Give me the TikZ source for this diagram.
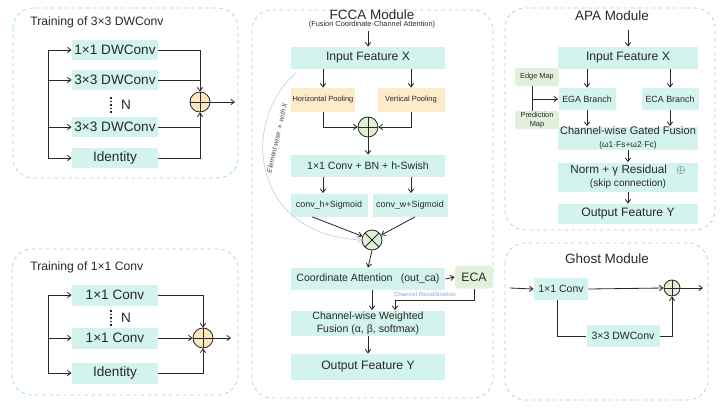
\documentclass[tikz,border=0pt]{standalone}
\usepackage{fontspec}
\setmainfont{Liberation Sans}
\usepackage{xcolor}
\usepackage{tikz}
\usetikzlibrary{arrows.meta, positioning}
\usetikzlibrary{calc}

\definecolor{boxc}{RGB}{211,243,239}
\definecolor{yelc}{RGB}{253,236,201}
\definecolor{grnc}{RGB}{226,239,218}
\definecolor{plusy}{RGB}{252,232,188}
\definecolor{plusg}{RGB}{224,240,214}
\definecolor{panelc}{RGB}{140,222,210}
\definecolor{curvec}{RGB}{200,206,236}
\definecolor{recc}{RGB}{170,185,240}
\definecolor{linec}{RGB}{40,40,40}

\tikzset{
  panel/.style={draw=panelc, dashed, rounded corners=0.6cm, line width=0.6pt},
  blk/.style={fill=boxc, inner sep=0pt, align=center},
  sz/.style 2 args={minimum width=#1*0.03cm, minimum height=#2*0.03cm},
  arr/.style={-{Straight Barb[length=3pt,width=4.5pt]}},
  oplus/.style={circle, draw, inner sep=0pt, minimum size=#1*0.03cm,
    path picture={\draw (path picture bounding box.north) -- (path picture bounding box.south)
      (path picture bounding box.west) -- (path picture bounding box.east);}},
  otimes/.style={circle, draw, inner sep=0pt, minimum size=#1*0.03cm,
    path picture={\draw (path picture bounding box.north west) -- (path picture bounding box.south east)
      (path picture bounding box.south west) -- (path picture bounding box.north east);}},
  ttl/.style={font=\fontsize{10.4}{12}\selectfont},
  head/.style={font=\fontsize{11.5}{13}\selectfont},
  fbig/.style={font=\fontsize{11.6}{13}\selectfont},
  fmid/.style={font=\fontsize{10.4}{12}\selectfont},
  fnine/.style={font=\fontsize{9}{10.8}\selectfont},
  fsml/.style={font=\fontsize{7.6}{9}\selectfont},
  ftiny/.style={font=\fontsize{6.3}{7.4}\selectfont},
}

\begin{document}
\begin{tikzpicture}[x=0.03cm, y=-0.03cm, line width=0.7pt, color=linec]
\useasboundingbox (0,0) rectangle (722,408);

% panels
\draw[panel] (13,8) rectangle (238,178);
\draw[panel] (12,249) rectangle (238,395);
\draw[panel] (252,10) rectangle (493,398);
\draw[panel] (505,8) rectangle (715,230);
\draw[panel] (505,243) rectangle (708,400);

% training of 3x3 DWConv
\node[ttl, anchor=west](t1) at (26,22) {Training of 3×3 DWConv};
\node[blk, sz={86}{20}, fbig](a1) at (115,50) {1×1 DWConv};
\node[blk, sz={86}{20}, fbig](a2) at (115,80) {3×3 DWConv};
\node[blk, sz={86}{20}, fbig](a3) at (115,127) {3×3 DWConv};
\node[blk, sz={86}{20}, fbig](a4) at (115,158) {Identity};
\draw[dash pattern=on 1.3pt off 1.7pt, line width=1pt] (111,97) -- (111,113);
\node[fbig](n1) at (126,105) {N};
\node[oplus=20, fill=plusy](sumA) at (200,102) {};
\coordinate (sa) at (48,50);
\coordinate (sb) at (48,158);
\draw (sa) -- (sb);
\foreach \b in {a1,a2,a3,a4}
  \draw[arr] (sa |- \b) -- (\b.west);
\draw[arr] (a1.east) -| (sumA.north);
\draw (a2.east) -- (a2 -| sumA);
\draw[arr] (a4.east) -| (sumA.south);
\draw (a3.east) -- (a3 -| sumA);
\coordinate (outA) at (235,102);
\draw[arr] (sumA.east) -- (outA);

% training of 1x1 Conv
\node[ttl, anchor=west](t2) at (26,267) {Training of 1×1 Conv};
\node[blk, sz={86}{21}, fbig](b1) at (115,295) {1×1 Conv};
\node[blk, sz={86}{21}, fbig](b2) at (115,338) {1×1 Conv};
\node[blk, sz={86}{21}, fbig](b3) at (115,373) {Identity};
\draw[dash pattern=on 1.3pt off 1.7pt, line width=1pt] (111,310) -- (111,326);
\node[fbig](n2) at (126,318) {N};
\node[oplus=20, fill=plusy](sumB) at (203,338) {};
\coordinate (sc) at (48,295);
\coordinate (sd) at (48,373);
\draw (sc) -- (sd);
\foreach \b in {b1,b2,b3}
  \draw[arr] (sc |- \b) -- (\b.west);
\draw[arr] (b1.east) -| (sumB.north);
\draw[arr] (b2.east) -- (sumB.west);
\draw[arr] (b3.east) -| (sumB.south);
\coordinate (outB) at (231,338);
\draw[arr] (sumB.east) -- (outB);

% FCCA module
\node[head](fcca) at (372,15) {FCCA Module};
\node[font=\fontsize{6.3}{7}\selectfont](fsub) at (372,25) {(Fusion Coordinate-Channel Attention)};
\node[blk, sz={154}{22}, fmid](f1) at (368,58) {Input Feature X};
\node[blk, sz={64}{24}, fill=yelc, font=\fontsize{6.4}{7.5}\selectfont](hp) at (323,100) {Horizontal Pooling};
\node[blk, sz={67}{24}, fill=yelc, font=\fontsize{6.4}{7.5}\selectfont](vp) at (411,100) {Vertical Pooling};
\node[oplus=20, fill=plusg](sumF) at (368,127) {};
\node[blk, sz={154}{22}, fnine](f2) at (368,166) {1×1 Conv + BN + h-Swish};
\node[blk, sz={77}{23}, fsml](ch) at (329,205) {conv\_h+Sigmoid};
\node[blk, sz={75}{23}, fsml](cw) at (410,205) {conv\_w+Sigmoid};
\node[otimes=20, fill=plusg](mulF) at (372,240) {};
\node[blk, sz={154}{22}, fnine](ca) at (368,279) {Coordinate Attention\hspace{7pt}(out\_ca)};
\node[blk, sz={38}{23}, fill=grnc, rounded corners=3pt, fmid](eca) at (474,277) {ECA};
\node[blk, sz={154}{25}, fnine](fu) at (368,323) {Channel-wise Weighted\\Fusion (α, β, softmax)};
\node[blk, sz={154}{26}, fmid](fo) at (368,367) {Output Feature Y};
\coordinate (fin) at (368,31);
\draw[arr] (fin) -- (f1.north);
\draw[arr] (hp |- f1.south) -- (hp.north);
\draw[arr] (vp |- f1.south) -- (vp.north);
\draw[arr] (hp.south) |- (sumF.west);
\draw[arr] (vp.south) |- (sumF.east);
\draw[arr] (sumF.south) -- (f2.north);
\draw[arr] (hp |- f2.south) -- (hp |- ch.north);
\draw[arr] (vp |- f2.south) -- (vp |- cw.north);
\draw[arr] ([xshift=-0.5cm]ch.south) -- (mulF);
\draw[arr] ([xshift=0.15cm]cw.south) -- (mulF);
\draw[arr, curvec, line width=0.6pt] ([xshift=0.18cm,yshift=-0.09cm]f1.south west)
  .. controls (240,120) and (250,235) .. (mulF.west);
\node[rotate=77, text=black!70, font=\itshape\fontsize{6}{7}\selectfont](ew) at (277,138) {Element-wise \,×\, with \textit{X}};
\draw[arr] (mulF.south) -- (ca.north);
\draw[arr] (ca.east) -- (eca.west);
\coordinate (rc) at (395,300);
\draw[arr] (eca.south) |- (rc) -- (rc |- fu.north);
\node[text=recc, font=\bfseries\fontsize{5}{6}\selectfont](rcl) at (425,294) {Channel Recalibration};
\draw[arr] (mulF |- ca.south) -- (mulF |- fu.north);
\draw[arr] (fu.south) -- (fo.north);

% APA module
\node[head](apa) at (612,16) {APA Module};
\node[blk, sz={140}{22}, fmid](p1) at (628,58) {Input Feature X};
\node[blk, sz={57}{22}, fsml](eg) at (587,99) {EGA Branch};
\node[blk, sz={57}{22}, fsml](ec) at (670,99) {ECA Branch};
\node[blk, sz={44}{18}, fill=grnc, rounded corners=2pt, ftiny](em) at (537,77) {Edge Map};
\node[blk, sz={44}{18}, fill=grnc, rounded corners=2pt, ftiny](pm) at (537,120) {Prediction\\Map};
\node[blk, sz={140}{23}, font=\fontsize{9.4}{10.5}\selectfont](gf) at (628,138) {Channel-wise Gated Fusion\\{\fontsize{7.2}{8}\selectfont(ω1·Fs+ω2·Fc)}};
\node[blk, sz={140}{29}, font=\fontsize{10}{11.5}\selectfont](nr) at (628,177) {Norm + γ Residual\hspace{8pt}$\oplus$\\{\fontsize{8.6}{10}\selectfont(skip connection)}};
\node[blk, sz={140}{20}, fmid](po) at (628,214) {Output Feature Y};
\coordinate (pin) at (628,30);
\draw[arr] (pin) -- (p1.north);
\draw[arr] (eg |- p1.south) -- (eg.north);
\draw[arr] (ec |- p1.south) -- (ec.north);
\draw ([xshift=-0.15cm]em.south) -- ([xshift=-0.15cm]pm.north);
\draw[arr] ([xshift=-0.15cm]em.south |- eg) -- (eg.west);
\draw[arr] (eg.south) -- (eg |- gf.north);
\draw[arr] (ec.south) -- (ec |- gf.north);
\draw[arr] (gf.south) -- (nr.north);
\draw[arr] (nr.south) -- (po.north);

% Ghost module
\node[head](gh) at (607,259) {Ghost Module};
\node[blk, sz={54}{22}, fnine](g1) at (561,289) {1×1 Conv};
\node[blk, sz={73}{22}, fnine](g2) at (623,336) {3×3 DWConv};
\node[oplus=16, fill=plusg](sumG) at (672,288) {};
\coordinate (gin) at (510,288);
\coordinate (gout) at (703,288);
\draw[arr] (gin) -- (g1.west);
\draw[arr] (g1.east) -- (sumG.west);
\draw ([xshift=-0.1cm]g1.south) |- (g2.west);
\draw[arr] (g2.east) -| (sumG.south);
\draw[arr] (sumG.east) -- (gout);
\end{tikzpicture}
\end{document}
